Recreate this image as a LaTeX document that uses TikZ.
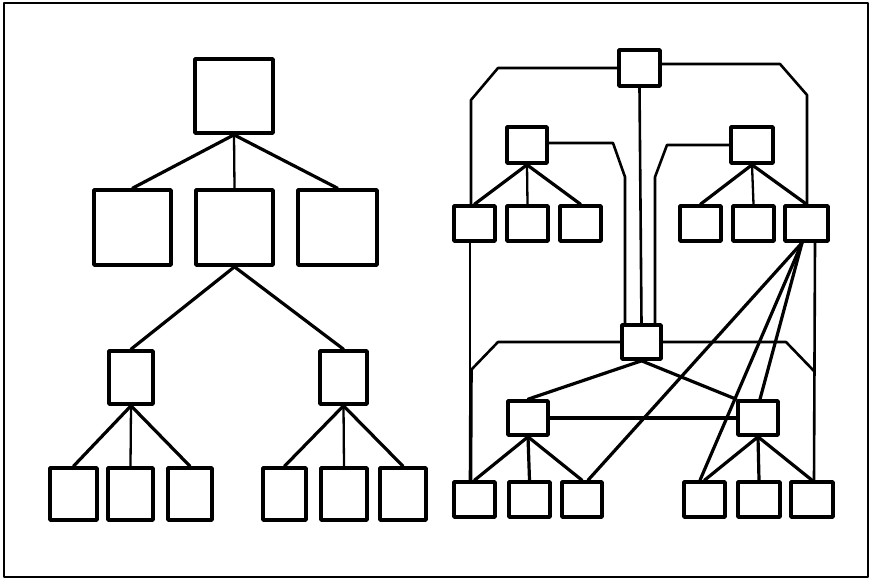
\documentclass[tikz,border=0pt]{standalone}
\begin{document}
\begin{tikzpicture}[x=1pt,y=-1pt,line join=round,line cap=round,
  box/.style={draw,line width=3.6pt,rectangle,inner sep=0pt,fill=white},
  edge/.style={line width=3.2pt},
  thin edge/.style={line width=2.3pt},
  bus/.style={line width=2.6pt}]
\useasboundingbox (0,0) rectangle (870,579);
\draw[line width=2.6pt] (4,3) rectangle (868,577);

% ---------- left tree ----------
\node[box,minimum width=78pt,minimum height=74pt] (top) at (234,96) {};
\node[box,minimum width=77pt,minimum height=75pt] (a1) at (132.5,227.5) {};
\node[box,minimum width=77pt,minimum height=75pt] (a2) at (234.5,227.5) {};
\node[box,minimum width=79pt,minimum height=75pt] (a3) at (337.5,227.5) {};
\node[box,minimum width=44pt,minimum height=53pt] (b1) at (131,377.5) {};
\node[box,minimum width=47pt,minimum height=53pt] (b2) at (343.5,377.5) {};
\node[box,minimum width=47pt,minimum height=52pt] (c1) at (73.5,494) {};
\node[box,minimum width=45pt,minimum height=52pt] (c2) at (130.5,494) {};
\node[box,minimum width=44pt,minimum height=52pt] (c3) at (190,494) {};
\node[box,minimum width=43pt,minimum height=52pt] (c4) at (284.5,494) {};
\node[box,minimum width=46pt,minimum height=52pt] (c5) at (344,494) {};
\node[box,minimum width=46pt,minimum height=52pt] (c6) at (403,494) {};

\draw[edge] (top.south) -- (a1.north);
\draw[thin edge] (top.south) -- (a2.north);
\draw[edge] (top.south) -- (a3.north);
\draw[edge] (a2.south) -- (b1.north);
\draw[edge] (a2.south) -- (b2.north);
\draw[edge] (b1.south) -- (c1.north);
\draw[thin edge] (b1.south) -- (c2.north);
\draw[edge] (b1.south) -- (c3.north);
\draw[edge] (b2.south) -- (c4.north);
\draw[thin edge] (b2.south) -- (c5.north);
\draw[edge] (b2.south) -- (c6.north);

% ---------- right network ----------
\node[box,minimum width=41pt,minimum height=36pt] (T) at (639.5,68) {};
\node[box,minimum width=40pt,minimum height=36pt] (A) at (527,145) {};
\node[box,minimum width=42pt,minimum height=36pt] (B) at (752,145) {};
\node[box,minimum width=41pt,minimum height=35pt] (L1) at (474.5,223.5) {};
\node[box,minimum width=41pt,minimum height=35pt] (L2) at (527.5,223.5) {};
\node[box,minimum width=41pt,minimum height=35pt] (L3) at (580.5,223.5) {};
\node[box,minimum width=41pt,minimum height=35pt] (R1) at (700.5,223.5) {};
\node[box,minimum width=41pt,minimum height=35pt] (R2) at (753.5,223.5) {};
\node[box,minimum width=43pt,minimum height=35pt] (R3) at (806.5,223.5) {};
\node[box,minimum width=39pt,minimum height=34pt] (M) at (641.5,342) {};
\node[box,minimum width=40pt,minimum height=34pt] (C) at (528,418) {};
\node[box,minimum width=40pt,minimum height=34pt] (D) at (758,418) {};
\node[box,minimum width=41pt,minimum height=35pt] (LL1) at (474.5,499.5) {};
\node[box,minimum width=41pt,minimum height=35pt] (LL2) at (529.5,499.5) {};
\node[box,minimum width=40pt,minimum height=35pt] (LL3) at (582,499.5) {};
\node[box,minimum width=41pt,minimum height=35pt] (LR1) at (704.5,499.5) {};
\node[box,minimum width=42pt,minimum height=35pt] (LR2) at (759,499.5) {};
\node[box,minimum width=42pt,minimum height=35pt] (LR3) at (812,499.5) {};

% bend points of the buses
\coordinate (tl1) at (498,68);
\coordinate (tl2) at (471,100);
\coordinate (tr1) at (780,64);
\coordinate (tr2) at (807,95);
\coordinate (al1) at (613,143);
\coordinate (al2) at (625,177);
\coordinate (bl1) at (667,145);
\coordinate (bl2) at (655,177);
\coordinate (ml1) at (498,342);
\coordinate (ml2) at (471,370);
\coordinate (mr1) at (786,342);
\coordinate (mr2) at (814,371);

% tree edges
\draw[edge] (A.south) -- (L1.north);
\draw[thin edge] (A.south) -- (L2.north);
\draw[edge] (A.south) -- (L3.north);
\draw[edge] (B.south) -- (R1.north);
\draw[thin edge] (B.south) -- (R2.north);
\draw[edge] (B.south) -- (R3.north);
\draw[edge] (C.south) -- (LL1.north);
\draw[edge] (C.south) -- (LL2.north);
\draw[edge] (C.south) -- (LL3.north);
\draw[edge] (D.south) -- (LR1.north);
\draw[edge] (D.south) -- (LR2.north);
\draw[edge] (D.south) -- (LR3.north);

% buses
\draw[bus] (T.south) -- (M.north);
\draw[bus] (T.west) -- (tl1) -- (tl2) -- ([xshift=-3.5pt]L1.north);
\draw[bus] ([yshift=4pt]T.east) -- (tr1) -- (tr2) -- ([xshift=0.5pt]R3.north);
\draw[bus] ([yshift=2pt]A.east) -- (al1) -- (al2) -- ([xshift=-16.5pt]M.north);
\draw[bus] (B.west) -- (bl1) -- (bl2) -- ([xshift=13.5pt]M.north);
\draw[bus] ([xshift=-4.5pt]L1.south) -- ([xshift=-4.5pt]LL1.north);
\draw[bus] (M.west) -- (ml1) -- (ml2);
\draw[line width=3.6pt] (ml2) -- ([xshift=-4pt]LL1.north);
\draw[bus] ([xshift=8.5pt]R3.south) -- ([xshift=2pt]LR3.north);
\draw[bus] (M.east) -- (mr1) -- (mr2);
\draw[edge] (M.south) -- (C.north);
\draw[edge] (M.south) -- (D.north west);
\draw[edge] (C.east) -- (D.west);

% fan from R3
\draw[edge] ([xshift=-4.5pt]R3.south) -- ([xshift=6pt]LL3.north);
\draw[edge] ([xshift=-4.5pt]R3.south) -- ([xshift=-4.5pt]LR1.north);
\draw[edge] ([xshift=-4.5pt]R3.south) -- ([xshift=2pt]D.north);
\end{tikzpicture}
\end{document}
